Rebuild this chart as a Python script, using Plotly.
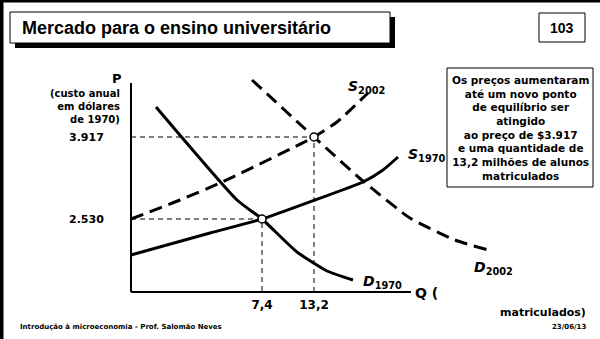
import plotly.graph_objects as go

# Curvas (unidades = deslocamento a partir da origem dos eixos)
d1970_x = [25, 106, 131, 166, 196, 222]
d1970_y = [185, 92, 73, 40, 21, 12]

s1970_x = [0, 79, 131, 184, 232, 252, 267]
s1970_y = [37, 59, 73, 92, 110, 122, 135]

s2002_x = [0, 49, 89, 183, 206, 237]
s2002_y = [73, 92, 109, 155, 170, 199]

d2002_x = [121, 183, 232, 279, 324, 357]
d2002_y = [212, 155, 111, 74, 52, 42]

# Pontos de equilibrio
eq_x = [131, 183]
eq_y = [73, 155]
eq_q_labels = ["7,4", "13,2"]
eq_p_labels = ["2.530", "3.917"]

texto_caixa = ["Os preços aumentaram", "até um novo ponto", "de equilíbrio ser",
               "atingido", "ao preço de $3.917", "e uma quantidade de",
               "13,2 milhões de alunos", "matriculados"]

FONTE = "DejaVu Sans"
W, H = 600, 339
L, B = 129, 45
PW, PH = 369, 232


def px(x):
    return (x - L) / PW


def py(y):
    return (H - B - y) / PH


fig = go.Figure()

linha = dict(color="black", width=3)
fig.add_trace(go.Scatter(x=d1970_x, y=d1970_y, mode="lines",
                         line=dict(linha, shape="spline", smoothing=0.5)))
fig.add_trace(go.Scatter(x=s1970_x, y=s1970_y, mode="lines",
                         line=dict(linha, shape="spline", smoothing=0.5)))
fig.add_trace(go.Scatter(x=s2002_x, y=s2002_y, mode="lines",
                         line=dict(linha, dash="13px,7px", shape="spline", smoothing=0.5)))
fig.add_trace(go.Scatter(x=d2002_x, y=d2002_y, mode="lines",
                         line=dict(linha, dash="13px,7px", shape="spline", smoothing=0.5)))

# linhas guia tracejadas
for xe, ye in zip(eq_x, eq_y):
    fig.add_trace(go.Scatter(x=[0, xe, xe], y=[ye, ye, 0], mode="lines",
                             line=dict(color="black", width=1, dash="5px,4px")))

fig.add_trace(go.Scatter(x=eq_x, y=eq_y, mode="markers",
                         marker=dict(size=8, color="white",
                                     line=dict(color="black", width=1.5))))

# eixos
fig.add_shape(type="line", x0=0, y0=0, x1=280, y1=0, line=dict(color="black", width=2))
fig.add_shape(type="line", x0=0, y0=0, x1=0, y1=209, line=dict(color="black", width=2))

# moldura, caixa do titulo e numero
fig.add_shape(type="line", xref="paper", yref="paper", x0=px(1.5), y0=py(0), x1=px(1.5), y1=py(339),
              line=dict(color="black", width=4))
fig.add_shape(type="line", xref="paper", yref="paper", x0=px(0), y0=py(1), x1=px(600), y1=py(1),
              line=dict(color="black", width=3))
fig.add_shape(type="rect", xref="paper", yref="paper", x0=px(15), y0=py(17), x1=px(395), y1=py(48),
              fillcolor="black", line=dict(width=0))
fig.add_shape(type="rect", xref="paper", yref="paper", x0=px(10), y0=py(12), x1=px(390), y1=py(43),
              fillcolor="white", line=dict(color="black", width=1))
fig.add_shape(type="rect", xref="paper", yref="paper", x0=px(539), y0=py(13), x1=px(585), y1=py(42),
              fillcolor="white", line=dict(color="black", width=1))
fig.add_shape(type="rect", xref="paper", yref="paper", x0=px(447), y0=py(68), x1=px(593), y1=py(187),
              fillcolor="white", line=dict(color="black", width=1))


def texto(x, y, t, size, anchor="center", fam=FONTE):
    fig.add_annotation(xref="paper", yref="paper", x=px(x), y=py(y), text=t,
                       showarrow=False, xanchor=anchor, yanchor="middle", align=anchor if anchor != "center" else "center",
                       font=dict(family=fam, size=size, color="black"))


texto(20, 28, "<b>Mercado para o ensino universitário</b>", 18, "left", "Liberation Sans")
texto(562, 28, "<b>103</b>", 14, "center", "Liberation Sans")
texto(520, 128, "<b>" + "<br>".join(texto_caixa) + "</b>", 10.5)

texto(117, 78, "<b>P</b>", 13)
texto(122, 106, "<b>(custo anual<br>em dólares<br>de 1970)</b>", 10, "right")
texto(413, 293, "<b>Q (</b>", 14, "left")
texto(588, 312, "<b>matriculados)</b>", 11, "right")
texto(18, 327, "<b>Introdução à microeconomia - Prof. Salomão Neves</b>", 7, "left")
texto(588, 327, "<b>23/06/13</b>", 7, "right")

texto(366, 87, "<b><i>S</i><sub>2002</sub></b>", 14)
texto(427, 155, "<b><i>S</i><sub>1970</sub></b>", 14)
texto(382, 282, "<b><i>D</i><sub>1970</sub></b>", 14)
texto(493, 268, "<b><i>D</i><sub>2002</sub></b>", 14)

fig.update_layout(
    width=W, height=H,
    margin=dict(l=L, r=W - L - PW, t=H - B - PH, b=B),
    paper_bgcolor="white", plot_bgcolor="white",
    showlegend=False,
    xaxis=dict(range=[-2, 367], showgrid=False, zeroline=False, showline=False,
               tickvals=eq_x, ticktext=["<b>%s</b>" % t for t in eq_q_labels],
               ticks="outside", ticklen=0, tickcolor="rgba(0,0,0,0)",
               tickfont=dict(family=FONTE, size=12, color="black")),
    yaxis=dict(range=[-2, 230], showgrid=False, zeroline=False, showline=False,
               tickvals=eq_y, ticktext=["<b>%s</b>" % t for t in eq_p_labels],
               ticks="outside", ticklen=22, tickcolor="rgba(0,0,0,0)",
               tickfont=dict(family=FONTE, size=11, color="black")),
)

# tirar a margem padrao da pagina para a figura ficar no canto
fig.write_html("out.html", config={"displayModeBar": False},
               post_script="document.body.style.margin='0';document.body.style.overflow='hidden';")
